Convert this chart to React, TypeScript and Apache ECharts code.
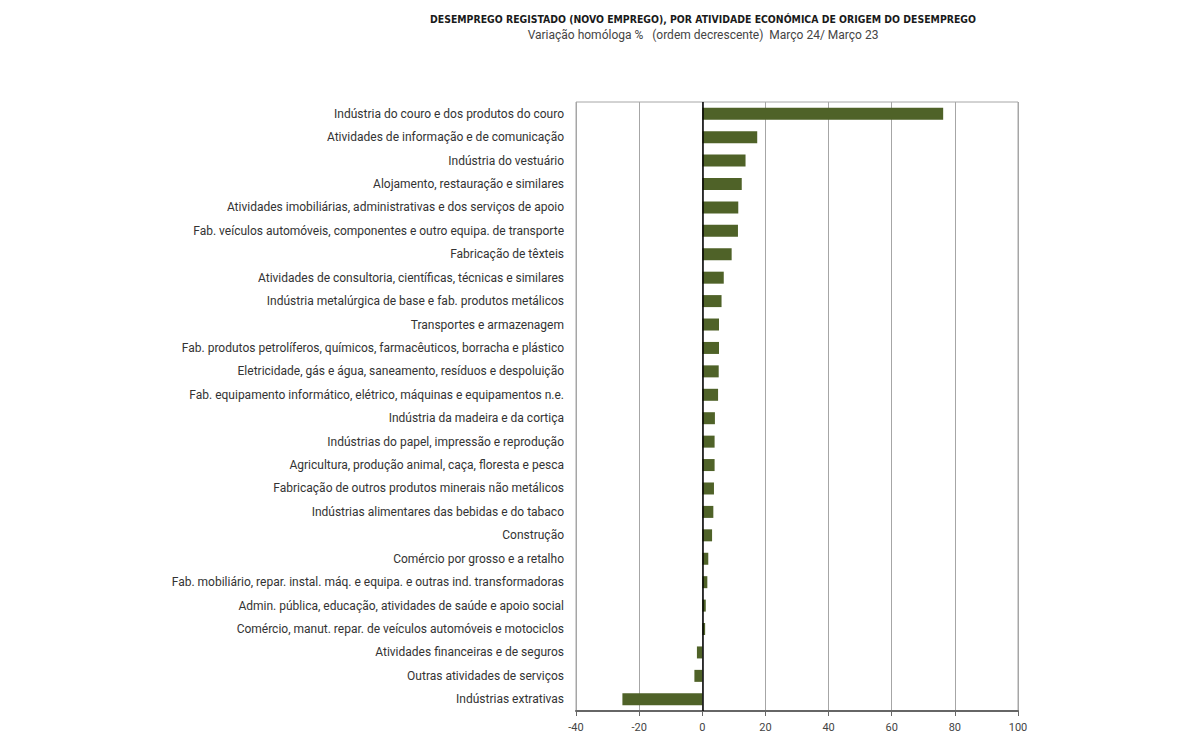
import React, { useEffect, useRef } from "react";
import * as echarts from "echarts";

const categories: string[] = [
  "Indústria do couro e dos produtos do couro",
  "Atividades de informação e de comunicação",
  "Indústria do vestuário",
  "Alojamento, restauração e similares",
  "Atividades imobiliárias, administrativas e dos serviços de apoio",
  "Fab. veículos automóveis, componentes e outro equipa. de transporte",
  "Fabricação de têxteis",
  "Atividades de consultoria, científicas, técnicas e similares",
  "Indústria metalúrgica de base e fab. produtos metálicos",
  "Transportes e armazenagem",
  "Fab. produtos petrolíferos, químicos, farmacêuticos, borracha e plástico",
  "Eletricidade, gás e água, saneamento, resíduos e despoluição",
  "Fab. equipamento informático, elétrico, máquinas e equipamentos n.e.",
  "Indústria da madeira e da cortiça",
  "Indústrias do papel, impressão e reprodução",
  "Agricultura, produção animal, caça, floresta e pesca",
  "Fabricação de outros produtos minerais não metálicos",
  "Indústrias alimentares das bebidas e do tabaco",
  "Construção",
  "Comércio por grosso e a retalho",
  "Fab. mobiliário, repar. instal. máq. e equipa. e outras ind. transformadoras",
  "Admin. pública, educação, atividades de saúde e apoio social",
  "Comércio, manut. repar. de veículos automóveis e motociclos",
  "Atividades financeiras e de seguros",
  "Outras atividades de serviços",
  "Indústrias extrativas",
];

const values: number[] = [
  76.3, 17.4, 13.7, 12.5, 11.4, 11.3, 9.3, 6.8, 6.1, 5.3, 5.3, 5.2, 5.0, 4.0,
  3.9, 3.9, 3.7, 3.5, 3.1, 1.9, 1.6, 1.1, 0.9, -1.7, -2.5, -25.3,
];

const xTicks = { min: -40, max: 100, interval: 20 };

const titleText =
  "DESEMPREGO REGISTADO (NOVO EMPREGO), POR ATIVIDADE ECONÓMICA DE ORIGEM DO DESEMPREGO";
const subtitleText =
  "Variação homóloga %   (ordem decrescente)  Março 24/ Março 23";

export default function App() {
  const ref = useRef<HTMLDivElement>(null);
  useEffect(() => {
    if (!ref.current) return;
    const chart = echarts.init(ref.current, undefined, { renderer: "svg" });
    chart.setOption({
      animation: false,
      backgroundColor: "#ffffff",
      title: {
        text: titleText,
        subtext: subtitleText,
        left: 698,
        top: 9,
        textAlign: "center",
        itemGap: 5,
        textStyle: {
          fontFamily: "'DejaVu Sans Condensed', 'Roboto', sans-serif",
          fontSize: 10.4,
          fontWeight: "bold",
          color: "#1a1a1a",
        },
        subtextStyle: {
          fontFamily: "Roboto, sans-serif",
          fontSize: 12,
          color: "#444",
        },
      },
      grid: {
        left: 576,
        right: 165,
        top: 102,
        bottom: 37,
        show: true,
        borderColor: "#a6a6a6",
        borderWidth: 1,
        containLabel: false,
      },
      xAxis: {
        type: "value",
        min: xTicks.min,
        max: xTicks.max,
        interval: xTicks.interval,
        axisLine: { show: true, lineStyle: { color: "#666", width: 2 } },
        axisTick: { show: true, length: 5, lineStyle: { color: "#666" } },
        axisLabel: {
          color: "#444",
          fontSize: 11,
          fontFamily: "Roboto, sans-serif",
          margin: 11,
        },
        splitLine: { show: true, lineStyle: { color: "#a6a6a6", width: 1 } },
      },
      yAxis: {
        type: "category",
        data: categories,
        inverse: true,
        axisLine: { show: false },
        axisTick: { show: false },
        axisLabel: {
          color: "#333",
          fontSize: 12,
          fontFamily: "Roboto, sans-serif",
          margin: 12,
        },
        splitLine: { show: false },
      },
      series: [
        {
          type: "bar",
          data: values,
          barWidth: 12,
          itemStyle: { color: "#4f6228" },
          markLine: {
            silent: true,
            symbol: "none",
            label: { show: false },
            lineStyle: { color: "#000", width: 1.5, type: "solid" },
            data: [{ xAxis: 0 }],
          },
        },
      ],
    });
    return () => chart.dispose();
  }, []);
  return (
    <div
      ref={ref}
      style={{ position: "fixed", left: 0, top: 0, width: 1183, height: 748 }}
    />
  );
}
